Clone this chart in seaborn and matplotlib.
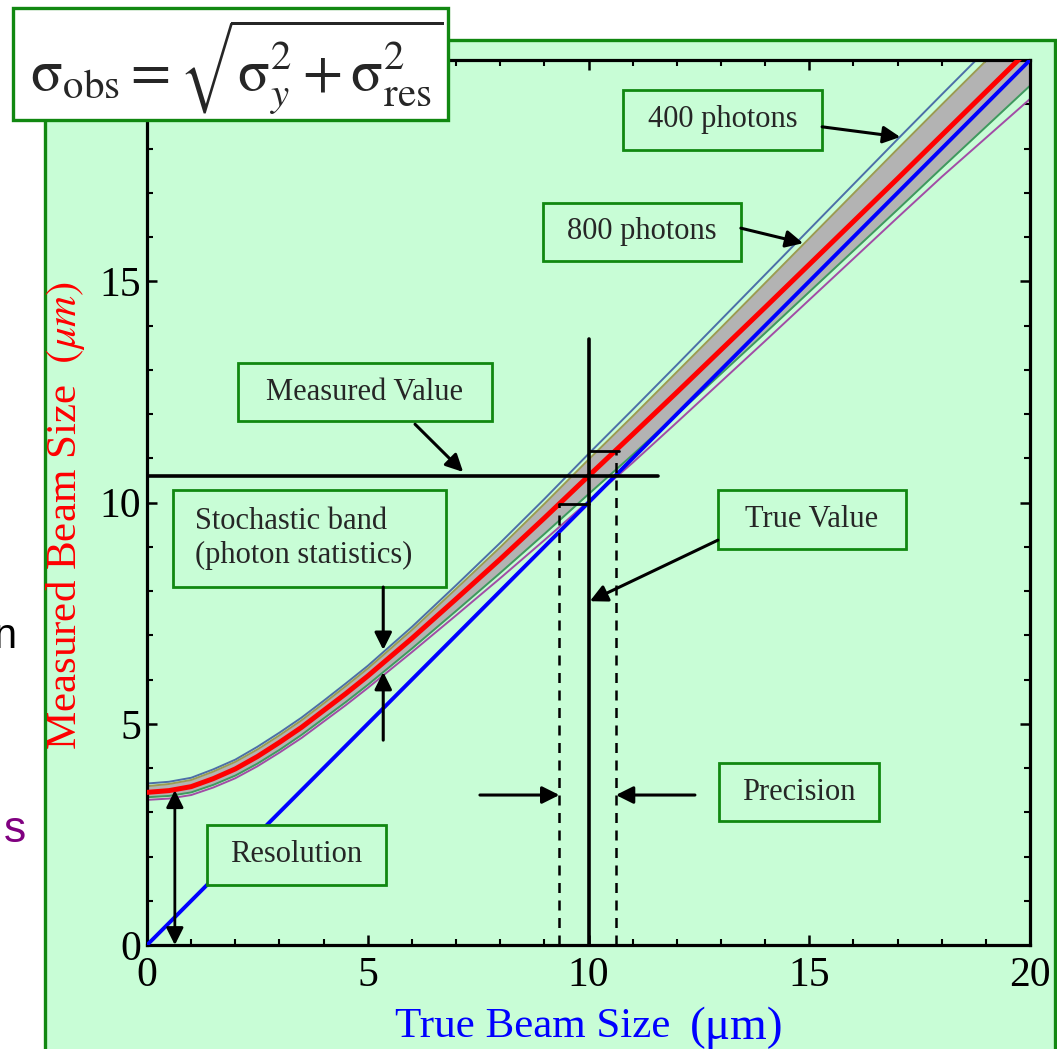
import matplotlib
matplotlib.use("Agg")
import matplotlib.pyplot as plt
import seaborn as sns
import pandas as pd
from matplotlib.patches import Rectangle
from matplotlib.ticker import MultipleLocator

# ---------------- data ----------------
true_size = [0, 0.5, 1, 1.5, 2, 2.5, 3, 3.5, 4, 4.5, 5, 6, 7, 8, 9, 10,
             11, 12, 13, 14, 15, 16, 17, 18, 19, 20]
measured_mean = [3.45, 3.49, 3.58, 3.76, 3.98, 4.26, 4.58, 4.92, 5.30, 5.68, 6.08,
                 6.93, 7.82, 8.72, 9.65, 10.60,
                 11.54, 12.49, 13.45, 14.41, 15.38, 16.35, 17.32, 18.30, 19.28, 20.26]
upper_400 = [3.65, 3.69, 3.78, 3.97, 4.19, 4.48, 4.80, 5.14, 5.52, 5.91, 6.31,
             7.19, 8.13, 9.09, 10.08, 11.10,
             12.10, 13.11, 14.13, 15.15, 16.17, 17.19, 18.21, 19.22, 20.22, 21.22]
upper_800 = [3.59, 3.64, 3.73, 3.92, 4.14, 4.42, 4.74, 5.08, 5.46, 5.85, 6.25,
             7.12, 8.05, 8.99, 9.97, 10.97,
             11.95, 12.95, 13.95, 14.96, 15.97, 16.98, 17.99, 18.99, 19.98, 20.97]
lower_800 = [3.34, 3.37, 3.45, 3.62, 3.83, 4.10, 4.41, 4.75, 5.12, 5.49, 5.88,
             6.70, 7.55, 8.41, 9.29, 10.19,
             11.08, 11.99, 12.91, 13.83, 14.76, 15.69, 16.62, 17.56, 18.49, 19.42]
lower_400 = [3.28, 3.31, 3.39, 3.56, 3.77, 4.04, 4.35, 4.68, 5.05, 5.42, 5.81,
             6.62, 7.45, 8.29, 9.15, 10.03,
             10.90, 11.81, 12.73, 13.65, 14.58, 15.51, 16.44, 17.36, 18.24, 19.12]
ideal_x = [0, 20]
ideal_y = [0, 20]

true_value = 10.0
measured_value = 10.6
precision_low = 9.34
precision_high = 10.62
resolution_value = 3.5

x_ticks = [0, 5, 10, 15, 20]
x_tick_labels = ["0", "5", "10", "15", "20"]
y_ticks = [0, 5, 10, 15, 20]
y_tick_labels = ["0", "5", "10", "15", "20"]

# ---------------- style ----------------
MINT = "#C8FDD6"
GREEN = "#118811"

sns.set_style("ticks")
plt.rcParams["font.family"] = ["Liberation Serif", "DejaVu Serif"]
plt.rcParams["mathtext.fontset"] = "stix"

fig = plt.figure(figsize=(10.57, 10.49), dpi=100)
fig.patch.set_facecolor("white")

panel = Rectangle((0.0426, -0.05), 0.9555, 1.0119, transform=fig.transFigure,
                  facecolor=MINT, edgecolor=GREEN, lw=2.4, zorder=-10)
fig.patches.append(panel)

ax = fig.add_axes([0.1391, 0.0991, 0.8354, 0.8437])
ax.patch.set_alpha(0)

df = pd.DataFrame({"true": true_size, "mean": measured_mean, "u400": upper_400,
                   "u800": upper_800, "l800": lower_800, "l400": lower_400})

ax.fill_between(df["true"], df["l800"], df["u800"], color="#B3B3B3", lw=0, zorder=1)
sns.lineplot(data=df, x="true", y="u400", ax=ax, color="#4C6FA8", lw=1.4, zorder=2)
sns.lineplot(data=df, x="true", y="u800", ax=ax, color="#9C9A52", lw=1.4, zorder=2)
sns.lineplot(data=df, x="true", y="l800", ax=ax, color="#3E9A5E", lw=1.4, zorder=2)
sns.lineplot(data=df, x="true", y="l400", ax=ax, color="#A24CA6", lw=1.4, zorder=2)
sns.lineplot(x=ideal_x, y=ideal_y, ax=ax, color="#0000FF", lw=2.8, zorder=3)
sns.lineplot(data=df, x="true", y="mean", ax=ax, color="#FF0000", lw=3.6, zorder=4)

# measured / true value lines
ax.plot([0, 11.57], [measured_value, measured_value], color="black", lw=2.6, zorder=6)
ax.plot([true_value, true_value], [0, 13.69], color="black", lw=2.6, zorder=6)
ax.plot([precision_low, precision_low], [0, 9.97], color="black", lw=1.8,
        ls=(0, (4, 3)), zorder=6)
ax.plot([precision_low, true_value], [9.97, 9.97], color="black", lw=2.0, zorder=6)
ax.plot([precision_high, precision_high], [0, 11.16], color="black", lw=1.8,
        ls=(0, (4, 3)), zorder=6)
ax.plot([true_value, 10.70], [11.16, 11.16], color="black", lw=2.0, zorder=6)

ax.set_xlim(0, 20)
ax.set_ylim(0, 20)
ax.set_xticks(x_ticks)
ax.set_xticklabels(x_tick_labels)
ax.set_yticks(y_ticks)
ax.set_yticklabels(y_tick_labels)
ax.xaxis.set_minor_locator(MultipleLocator(1))
ax.yaxis.set_minor_locator(MultipleLocator(1))
ax.tick_params(which="both", direction="in", top=True, right=True, colors="black")
ax.tick_params(which="major", length=7, width=1.8, labelsize=30)
ax.tick_params(which="minor", length=4.5, width=1.5)
ax.tick_params(axis="x", pad=8)
ax.tick_params(axis="y", pad=4)
for s in ax.spines.values():
    s.set_linewidth(2.3)
    s.set_color("black")
ax.set_xlabel("")
ax.set_ylabel("")

ax.text(-0.092, 0.485, r"Measured Beam Size  $(\mu m)$", transform=ax.transAxes,
        rotation=90, ha="center", va="center", color="#FF0000", fontsize=31)
ax.text(0.437, -0.092, "True Beam Size", transform=ax.transAxes,
        ha="center", va="center", color="#0000FF", fontsize=31)
ax.text(0.668, -0.094, "(\u03bcm)", transform=ax.transAxes,
        ha="center", va="center", color="#0000FF", fontsize=34)

# ---------------- annotation boxes ----------------
def box(x0, x1, y0, y1, text, fs=22, ha="center", tx=None):
    r = Rectangle((x0, y0), x1 - x0, y1 - y0, facecolor=MINT, edgecolor=GREEN,
                  lw=2.0, zorder=8, clip_on=False)
    ax.add_patch(r)
    if ha == "center":
        ax.text((x0 + x1) / 2, (y0 + y1) / 2, text, ha="center", va="center",
                fontsize=fs, zorder=9, linespacing=1.25)
    else:
        ax.text(tx, (y0 + y1) / 2, text, ha="left", va="center",
                fontsize=fs, zorder=9, linespacing=1.25)

def arrow(x0, y0, x1, y1):
    ax.annotate("", xy=(x1, y1), xytext=(x0, y0), zorder=9,
                arrowprops=dict(arrowstyle="-|>", color="black", lw=2.2,
                                mutation_scale=26, shrinkA=0, shrinkB=0))

box(10.78, 15.29, 17.97, 19.32, "400 photons")
arrow(15.29, 18.49, 17.06, 18.26)
box(8.97, 13.45, 15.46, 16.77, "800 photons")
arrow(13.45, 16.20, 14.86, 15.86)
box(2.06, 7.81, 11.84, 13.15, "Measured Value")
arrow(6.07, 11.77, 7.16, 10.69)
box(0.59, 6.77, 8.09, 10.28, "Stochastic band\n(photon statistics)", ha="left", tx=1.08)
arrow(5.35, 8.09, 5.35, 6.67)
arrow(5.35, 4.63, 5.35, 6.17)
box(12.93, 17.19, 8.95, 10.28, "True Value")
arrow(12.93, 9.15, 10.03, 7.77)
box(12.96, 16.58, 2.80, 4.11, "Precision")
arrow(7.54, 3.39, precision_low, 3.39)
arrow(12.41, 3.39, precision_high, 3.39)
box(1.36, 5.41, 1.36, 2.71, "Resolution")
ax.annotate("", xy=(0.63, 0.0), xytext=(0.63, resolution_value), zorder=9,
            arrowprops=dict(arrowstyle="<|-|>", color="black", lw=2.0,
                            mutation_scale=26, shrinkA=0, shrinkB=0))

# ---------------- formula box ----------------
fbox = Rectangle((0.0123, 0.8856), 0.4115, 0.1068, transform=fig.transFigure,
                 facecolor="white", edgecolor=GREEN, lw=2.4, zorder=20)
fig.patches.append(fbox)
fig.text(0.2235, 0.936,
         r"$\mathrm{\sigma}_{\mathrm{obs}} = \sqrt{\mathrm{\sigma}_{y}^{2} + \mathrm{\sigma}_{\mathrm{res}}^{2}}$",
         ha="center", va="center", fontsize=42, zorder=21)

# slide remnants at the left edge
fig.text(-0.006, 1 - 637 / 1049, "n", fontsize=30, family="Liberation Sans",
         color="black", ha="left", va="center")
fig.text(0.004, 1 - 830 / 1049, "s", fontsize=32, family="Liberation Sans",
         color="#800080", ha="left", va="center")

fig.savefig("out.png", dpi=100)
